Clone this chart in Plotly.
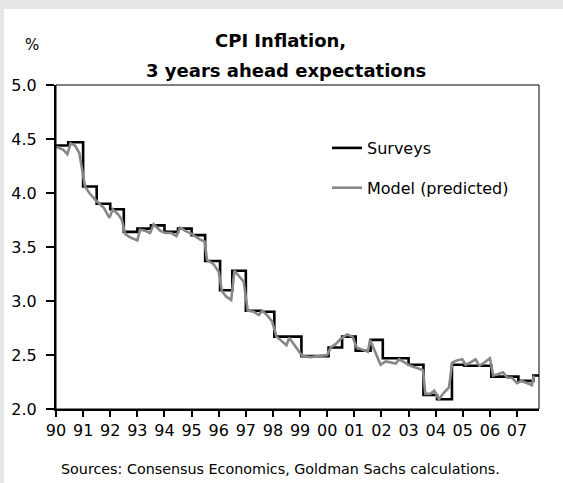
import plotly.graph_objects as go

# Surveys (semi-annual Consensus readings; held until next survey)
survey_dates = [1990.0, 1990.45, 1991.0, 1991.5, 1992.0, 1992.5, 1993.0, 1993.5,
                1994.0, 1994.5, 1995.0, 1995.5, 1996.05, 1996.5, 1997.0, 1997.55,
                1998.05, 1998.5, 1999.05, 1999.5, 2000.05, 2000.55, 2001.05, 2001.6,
                2002.05, 2002.5, 2003.0, 2003.55, 2004.05, 2004.6, 2005.05, 2005.5,
                2006.05, 2006.5, 2007.05, 2007.6, 2007.95]
survey_values = [4.44, 4.47, 4.06, 3.90, 3.85, 3.64, 3.67, 3.70,
                 3.64, 3.67, 3.61, 3.37, 3.10, 3.28, 2.91, 2.90,
                 2.67, 2.67, 2.49, 2.49, 2.57, 2.67, 2.54, 2.64,
                 2.47, 2.47, 2.41, 2.13, 2.09, 2.41, 2.40, 2.40,
                 2.30, 2.30, 2.26, 2.31, 2.31]

# Model (predicted)
model_dates = [1990.00, 1990.27, 1990.42, 1990.54, 1990.70, 1990.86, 1991.07, 1991.23,
               1991.44, 1991.60, 1991.77, 1991.97, 1992.09, 1992.30, 1992.43, 1992.55,
               1992.73, 1993.00, 1993.10, 1993.29, 1993.47, 1993.60, 1993.85, 1994.03,
               1994.24, 1994.44, 1994.58, 1994.77, 1995.01, 1995.30, 1995.48, 1995.57,
               1995.81, 1996.00, 1996.12, 1996.28, 1996.46, 1996.58, 1996.74, 1996.92,
               1997.07, 1997.29, 1997.48, 1997.60, 1997.78, 1997.97, 1998.13, 1998.30,
               1998.50, 1998.60, 1998.83, 1999.08, 1999.39, 1999.76, 2000.00, 2000.13,
               2000.31, 2000.50, 2000.74, 2000.93, 2001.09, 2001.30, 2001.50, 2001.58,
               2001.73, 2001.97, 2002.16, 2002.53, 2002.65, 2002.86, 2003.07, 2003.31,
               2003.53, 2003.62, 2003.80, 2003.95, 2004.12, 2004.30, 2004.49, 2004.61,
               2004.78, 2004.98, 2005.10, 2005.27, 2005.47, 2005.61, 2005.80, 2006.00,
               2006.12, 2006.26, 2006.48, 2006.64, 2006.81, 2007.00, 2007.16, 2007.36,
               2007.55, 2007.62]
model_values = [4.43, 4.40, 4.36, 4.46, 4.44, 4.37, 4.06, 4.00,
                3.94, 3.90, 3.86, 3.77, 3.85, 3.80, 3.75, 3.62,
                3.59, 3.56, 3.66, 3.65, 3.63, 3.71, 3.65, 3.63,
                3.63, 3.60, 3.68, 3.65, 3.62, 3.57, 3.55, 3.38,
                3.34, 3.27, 3.09, 3.04, 3.01, 3.28, 3.23, 3.18,
                2.91, 2.90, 2.87, 2.91, 2.87, 2.81, 2.67, 2.63,
                2.59, 2.66, 2.58, 2.49, 2.48, 2.49, 2.50, 2.57,
                2.60, 2.65, 2.69, 2.67, 2.57, 2.55, 2.53, 2.64,
                2.55, 2.41, 2.44, 2.42, 2.46, 2.43, 2.40, 2.38,
                2.36, 2.14, 2.14, 2.17, 2.09, 2.15, 2.20, 2.43,
                2.45, 2.46, 2.41, 2.43, 2.46, 2.40, 2.43, 2.47,
                2.31, 2.32, 2.34, 2.29, 2.29, 2.24, 2.26, 2.24,
                2.22, 2.31]

tick_years = list(range(1990, 2008))
tick_labels = ["90", "91", "92", "93", "94", "95", "96", "97", "98", "99",
               "00", "01", "02", "03", "04", "05", "06", "07"]

FONT = "DejaVu Sans, Arial, sans-serif"

W, H = 563, 483
L, R, T, B = 56, 24, 85, 74
pw, ph = W - L - R, H - T - B


def px_x(x):
    return (x - L) / pw


def px_y(y):
    return (H - B - y) / ph


fig = go.Figure()
fig.add_trace(go.Scatter(x=survey_dates, y=survey_values, mode="lines",
                         line=dict(color="black", width=2.6, shape="hv"),
                         name="Surveys", legendgroup="a"))
fig.add_trace(go.Scatter(x=model_dates, y=model_values, mode="lines",
                         line=dict(color="#888888", width=2.6),
                         name="Model (predicted)", legendgroup="b"))

fig.update_layout(
    width=W, height=H,
    margin=dict(l=L, r=R, t=T, b=B, pad=0),
    paper_bgcolor="#e6e6e6",
    plot_bgcolor="white",
    font=dict(family=FONT, size=16, color="black"),
    showlegend=True,
    legend=dict(x=px_x(327), y=px_y(131), xanchor="left", yanchor="top",
                bgcolor="rgba(0,0,0,0)", font=dict(size=16),
                traceorder="grouped", tracegroupgap=16),
    xaxis=dict(range=[1990, 2007.81], tickvals=tick_years, ticktext=tick_labels,
               ticks="outside", ticklen=6, tickwidth=1.5, tickcolor="black",
               showline=True, linewidth=2, linecolor="black",
               showgrid=False, zeroline=False, tickfont=dict(size=16)),
    yaxis=dict(range=[2, 5], dtick=0.5, tick0=2, tickformat=".1f",
               ticks="outside", ticklen=8, tickwidth=1.5, tickcolor="black",
               ticklabelstandoff=6,
               showline=True, linewidth=2, linecolor="black",
               showgrid=False, zeroline=False, tickfont=dict(size=16)),
    shapes=[
        dict(type="rect", xref="paper", yref="paper", layer="below",
             x0=px_x(4), x1=px_x(W + 2), y0=px_y(H + 2), y1=px_y(9),
             fillcolor="white", line=dict(width=0)),
        dict(type="rect", xref="paper", yref="paper", layer="above",
             x0=0, x1=1, y0=0, y1=1, line=dict(color="black", width=1)),
    ],
    annotations=[
        dict(text="<b>CPI Inflation,</b>", x=px_x(280), y=px_y(40), xref="paper", yref="paper",
             showarrow=False, xanchor="center", yanchor="middle", font=dict(size=18)),
        dict(text="<b>3 years ahead expectations</b>", x=px_x(286), y=px_y(70),
             xref="paper", yref="paper", showarrow=False, xanchor="center",
             yanchor="middle", font=dict(size=18)),
        dict(text="%", x=px_x(32), y=px_y(45), xref="paper", yref="paper",
             showarrow=False, xanchor="center", yanchor="middle", font=dict(size=15)),
        dict(text="Sources: Consensus Economics, Goldman Sachs calculations.",
             x=px_x(280), y=px_y(469), xref="paper", yref="paper", showarrow=False,
             xanchor="center", yanchor="middle", font=dict(size=14.3)),
    ],
)

fig.write_html("out.html",
               config={"displayModeBar": False},
               post_script="document.body.style.margin='0px';"
                           "document.body.style.overflow='hidden';")
